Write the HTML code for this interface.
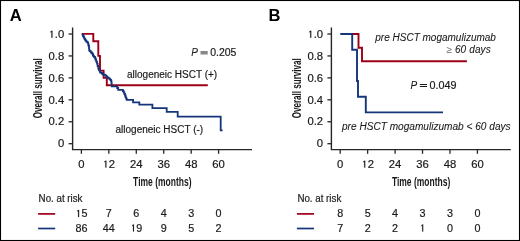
<!DOCTYPE html>
<html><head><meta charset="utf-8"><style>
html,body{margin:0;padding:0;background:#fff;}
svg{display:block;}
svg{will-change:transform;}
.t{font-family:"Liberation Sans",sans-serif;font-size:10px;fill:#1a1a1a;stroke:#1a1a1a;stroke-width:0.18px;}
.one{fill:#1a1a1a;stroke:#1a1a1a;stroke-width:36.864;}
.it{font-style:italic;stroke-width:0.08px;}
.lab{font-family:"Liberation Sans",sans-serif;font-size:12.6px;font-weight:bold;fill:#1a1a1a;}
.pl{font-family:"Liberation Sans",sans-serif;font-size:15.8px;font-weight:bold;fill:#000;}
</style></head><body>
<svg width="520" height="241" viewBox="0 0 520 241">
<rect x="0" y="0" width="520" height="241" fill="#fff"/>
<path d="M72.6,27.5 V149.6 M72,149.6 H252" stroke="#262626" stroke-width="1.4" fill="none"/>
<path d="M68.6,34 H72.6" stroke="#262626" stroke-width="1.3"/>
<g transform="translate(64.3,37.7) scale(1.13,1)"><text x="-13.901" y="0" class="t"> .0</text><path class="one" transform="translate(-13.901,0) scale(0.004883,-0.004883)" d="M515,0 V1215 L330,1085 V1235 L540,1409 H696 V0 Z"/></g>
<path d="M68.6,55.94 H72.6" stroke="#262626" stroke-width="1.3"/>
<text transform="translate(64.3,59.64) scale(1.13,1)" text-anchor="end" class="t">0.8</text>
<path d="M68.6,77.88 H72.6" stroke="#262626" stroke-width="1.3"/>
<text transform="translate(64.3,81.58) scale(1.13,1)" text-anchor="end" class="t">0.6</text>
<path d="M68.6,99.82 H72.6" stroke="#262626" stroke-width="1.3"/>
<text transform="translate(64.3,103.52) scale(1.13,1)" text-anchor="end" class="t">0.4</text>
<path d="M68.6,121.76 H72.6" stroke="#262626" stroke-width="1.3"/>
<text transform="translate(64.3,125.46000000000001) scale(1.13,1)" text-anchor="end" class="t">0.2</text>
<path d="M68.6,143.7 H72.6" stroke="#262626" stroke-width="1.3"/>
<text transform="translate(64.3,147.39999999999998) scale(1.13,1)" text-anchor="end" class="t">0</text>
<path d="M81.4,149.6 V153.8" stroke="#262626" stroke-width="1.3"/>
<text transform="translate(81.4,167.6) scale(1.13,1)" text-anchor="middle" class="t">0</text>
<path d="M108.84,149.6 V153.8" stroke="#262626" stroke-width="1.3"/>
<g transform="translate(108.84,167.6) scale(1.13,1)"><text x="-5.562" y="0" class="t"> 2</text><path class="one" transform="translate(-5.562,0) scale(0.004883,-0.004883)" d="M515,0 V1215 L330,1085 V1235 L540,1409 H696 V0 Z"/></g>
<path d="M136.28,149.6 V153.8" stroke="#262626" stroke-width="1.3"/>
<text transform="translate(136.28,167.6) scale(1.13,1)" text-anchor="middle" class="t">24</text>
<path d="M163.72000000000003,149.6 V153.8" stroke="#262626" stroke-width="1.3"/>
<text transform="translate(163.72000000000003,167.6) scale(1.13,1)" text-anchor="middle" class="t">36</text>
<path d="M191.16000000000003,149.6 V153.8" stroke="#262626" stroke-width="1.3"/>
<text transform="translate(191.16000000000003,167.6) scale(1.13,1)" text-anchor="middle" class="t">48</text>
<path d="M218.60000000000002,149.6 V153.8" stroke="#262626" stroke-width="1.3"/>
<text transform="translate(218.60000000000002,167.6) scale(1.13,1)" text-anchor="middle" class="t">60</text>
<text transform="translate(162.3,185.8) scale(0.675,1)" text-anchor="middle" class="lab">Time (months)</text>
<text transform="translate(41.7,88.3) rotate(-90) scale(0.64,1)" text-anchor="middle" class="lab">Overall survival</text>
<text x="38.6" y="201.5" class="t" textLength="43.9" lengthAdjust="spacingAndGlyphs">No. at risk</text>
<path d="M38.1,213.9 H55.2" stroke="#9c0018" stroke-width="1.7"/>
<path d="M38.1,228.5 H55.2" stroke="#15357a" stroke-width="1.7"/>
<path d="M331.4,27.5 V149.6 M330.8,149.6 H510.8" stroke="#262626" stroke-width="1.4" fill="none"/>
<path d="M327.4,34 H331.4" stroke="#262626" stroke-width="1.3"/>
<g transform="translate(323.1,37.7) scale(1.13,1)"><text x="-13.901" y="0" class="t"> .0</text><path class="one" transform="translate(-13.901,0) scale(0.004883,-0.004883)" d="M515,0 V1215 L330,1085 V1235 L540,1409 H696 V0 Z"/></g>
<path d="M327.4,55.94 H331.4" stroke="#262626" stroke-width="1.3"/>
<text transform="translate(323.1,59.64) scale(1.13,1)" text-anchor="end" class="t">0.8</text>
<path d="M327.4,77.88 H331.4" stroke="#262626" stroke-width="1.3"/>
<text transform="translate(323.1,81.58) scale(1.13,1)" text-anchor="end" class="t">0.6</text>
<path d="M327.4,99.82 H331.4" stroke="#262626" stroke-width="1.3"/>
<text transform="translate(323.1,103.52) scale(1.13,1)" text-anchor="end" class="t">0.4</text>
<path d="M327.4,121.76 H331.4" stroke="#262626" stroke-width="1.3"/>
<text transform="translate(323.1,125.46000000000001) scale(1.13,1)" text-anchor="end" class="t">0.2</text>
<path d="M327.4,143.7 H331.4" stroke="#262626" stroke-width="1.3"/>
<text transform="translate(323.1,147.39999999999998) scale(1.13,1)" text-anchor="end" class="t">0</text>
<path d="M340.20000000000005,149.6 V153.8" stroke="#262626" stroke-width="1.3"/>
<text transform="translate(340.20000000000005,167.6) scale(1.13,1)" text-anchor="middle" class="t">0</text>
<path d="M367.64,149.6 V153.8" stroke="#262626" stroke-width="1.3"/>
<g transform="translate(367.64,167.6) scale(1.13,1)"><text x="-5.562" y="0" class="t"> 2</text><path class="one" transform="translate(-5.562,0) scale(0.004883,-0.004883)" d="M515,0 V1215 L330,1085 V1235 L540,1409 H696 V0 Z"/></g>
<path d="M395.08000000000004,149.6 V153.8" stroke="#262626" stroke-width="1.3"/>
<text transform="translate(395.08000000000004,167.6) scale(1.13,1)" text-anchor="middle" class="t">24</text>
<path d="M422.52000000000004,149.6 V153.8" stroke="#262626" stroke-width="1.3"/>
<text transform="translate(422.52000000000004,167.6) scale(1.13,1)" text-anchor="middle" class="t">36</text>
<path d="M449.96000000000004,149.6 V153.8" stroke="#262626" stroke-width="1.3"/>
<text transform="translate(449.96000000000004,167.6) scale(1.13,1)" text-anchor="middle" class="t">48</text>
<path d="M477.40000000000003,149.6 V153.8" stroke="#262626" stroke-width="1.3"/>
<text transform="translate(477.40000000000003,167.6) scale(1.13,1)" text-anchor="middle" class="t">60</text>
<text transform="translate(421.1,185.8) scale(0.675,1)" text-anchor="middle" class="lab">Time (months)</text>
<text transform="translate(300.5,88.3) rotate(-90) scale(0.64,1)" text-anchor="middle" class="lab">Overall survival</text>
<text x="297.40000000000003" y="201.5" class="t" textLength="43.9" lengthAdjust="spacingAndGlyphs">No. at risk</text>
<path d="M296.90000000000003,213.9 H314.0" stroke="#9c0018" stroke-width="1.7"/>
<path d="M296.90000000000003,228.5 H314.0" stroke="#15357a" stroke-width="1.7"/>
<g transform="translate(81.4,216.9) scale(1.08,1)"><text x="-5.562" y="0" class="t"> 5</text><path class="one" transform="translate(-5.562,0) scale(0.004883,-0.004883)" d="M515,0 V1215 L330,1085 V1235 L540,1409 H696 V0 Z"/></g>
<text transform="translate(81.4,231.5) scale(1.08,1)" text-anchor="middle" class="t">86</text>
<text transform="translate(108.84,216.9) scale(1.08,1)" text-anchor="middle" class="t">7</text>
<text transform="translate(108.84,231.5) scale(1.08,1)" text-anchor="middle" class="t">44</text>
<text transform="translate(136.28,216.9) scale(1.08,1)" text-anchor="middle" class="t">6</text>
<g transform="translate(136.28,231.5) scale(1.08,1)"><text x="-5.562" y="0" class="t"> 9</text><path class="one" transform="translate(-5.562,0) scale(0.004883,-0.004883)" d="M515,0 V1215 L330,1085 V1235 L540,1409 H696 V0 Z"/></g>
<text transform="translate(163.72000000000003,216.9) scale(1.08,1)" text-anchor="middle" class="t">4</text>
<text transform="translate(163.72000000000003,231.5) scale(1.08,1)" text-anchor="middle" class="t">9</text>
<text transform="translate(191.16000000000003,216.9) scale(1.08,1)" text-anchor="middle" class="t">3</text>
<text transform="translate(191.16000000000003,231.5) scale(1.08,1)" text-anchor="middle" class="t">5</text>
<text transform="translate(218.60000000000002,216.9) scale(1.08,1)" text-anchor="middle" class="t">0</text>
<text transform="translate(218.60000000000002,231.5) scale(1.08,1)" text-anchor="middle" class="t">2</text>
<text transform="translate(340.20000000000005,216.9) scale(1.08,1)" text-anchor="middle" class="t">8</text>
<text transform="translate(340.20000000000005,231.5) scale(1.08,1)" text-anchor="middle" class="t">7</text>
<text transform="translate(367.64,216.9) scale(1.08,1)" text-anchor="middle" class="t">5</text>
<text transform="translate(367.64,231.5) scale(1.08,1)" text-anchor="middle" class="t">2</text>
<text transform="translate(395.08000000000004,216.9) scale(1.08,1)" text-anchor="middle" class="t">4</text>
<text transform="translate(395.08000000000004,231.5) scale(1.08,1)" text-anchor="middle" class="t">2</text>
<text transform="translate(422.52000000000004,216.9) scale(1.08,1)" text-anchor="middle" class="t">3</text>
<g transform="translate(422.52000000000004,231.5) scale(1.08,1)"><text x="-2.781" y="0" class="t"> </text><path class="one" transform="translate(-2.781,0) scale(0.004883,-0.004883)" d="M515,0 V1215 L330,1085 V1235 L540,1409 H696 V0 Z"/></g>
<text transform="translate(449.96000000000004,216.9) scale(1.08,1)" text-anchor="middle" class="t">3</text>
<text transform="translate(449.96000000000004,231.5) scale(1.08,1)" text-anchor="middle" class="t">0</text>
<text transform="translate(477.40000000000003,216.9) scale(1.08,1)" text-anchor="middle" class="t">0</text>
<text transform="translate(477.40000000000003,231.5) scale(1.08,1)" text-anchor="middle" class="t">0</text>
<text transform="translate(9.8,21.1) scale(1.05,1)" class="pl">A</text>
<text transform="translate(268.6,21.1) scale(1.05,1)" class="pl">B</text>
<path d="M81.7,33.9 H93.3 V41.3 H98.3 V55.9 H100 V70.6 H103.6 V77.9 H106.8 V85.2 H207.8" stroke="#9c0018" stroke-width="1.9" fill="none"/>
<path d="M81.7,34.6 H83 V36 H83.7 V37.3 H84.3 V38.6 H85 V39.6 H85.6 V40.6 H86.3 V41.6 H87.3 V42.3 H88 V43.3 H88.3 V44.6 H88.6 V46 H89 V48 H89.2 V50.2 H89.6 V51.2 H90.8 V52.5 H92 V53.7 H92.9 V55 H93.3 V56.2 H94.1 V57 H95 V57.9 H95.4 V59.5 H96.2 V61.6 H97 V63.7 H97.6 V66 H98.3 V68.7 H99 V70.3 H100 V72.3 H101 V72.8 H102 V73.5 H102.6 V74.3 H103.6 V74.7 H104.6 V75.1 H105.6 V75.6 H106.3 V76.4 H107 V77.1 H107.6 V77.7 H108.6 V78.4 H109.6 V79.1 H110.3 V79.8 H111 V80.6 H111.4 V82.5 H111.6 V84.5 H111.8 V86.4 L116.6,86.4 H117.2 V88 H118.2 V89.9 L122.5,89.9 H122.9 V91.2 H123.7 V92.3 H124.3 V93.8 H125 V95.5 H125.6 V97.3 H126.3 V98.8 H126.8 V99.9 L133.1,99.9 L133.1,102.3 L139.3,102.3 L139.3,104.7 L152.4,104.7 L152.4,108.1 L166.7,108.1 L166.7,111.9 L177.7,111.9 L177.7,116.6 L220.7,116.6 L220.7,130.4 L222.6,130.4" stroke="#15357a" stroke-width="1.8" fill="none" stroke-linejoin="miter"/>
<path d="M340.3,34 H352.2 V49.7 H357 V65.4 V81 H358 V96.7 H365.8 V112.4 H443" stroke="#15357a" stroke-width="1.9" fill="none"/>
<path d="M352.9,34 H358.5 V47.7 H362 V61.2 H466.9" stroke="#9c0018" stroke-width="1.9" fill="none"/>
<text x="191.3" y="55.8" class="t it">P</text>
<rect x="200.5" y="51" width="7.2" height="3.5" fill="#888"/>
<text x="210.2" y="55.8" class="t" textLength="26.2" lengthAdjust="spacingAndGlyphs">0.205</text>
<text x="127" y="77.8" class="t">allogeneic HSCT (+)</text>
<text x="115.5" y="132.8" class="t">allogeneic HSCT (-)</text>
<text x="375.3" y="40.8" class="t it">pre HSCT mogamulizumab</text>
<text x="446.4" y="53.4" class="t it" textLength="44.3" lengthAdjust="spacing"><tspan style="fill:#6a6a6a;stroke:none">≥</tspan> 60 days</text>
<text x="410.6" y="88.6" class="t it">P</text>
<rect x="419.8" y="84" width="7.2" height="1" fill="#1a1a1a"/><rect x="419.8" y="86" width="7.2" height="1" fill="#1a1a1a"/>
<text x="429.4" y="88.6" class="t" textLength="27" lengthAdjust="spacingAndGlyphs">0.049</text>
<text x="342" y="130.1" class="t it" textLength="168.6" lengthAdjust="spacingAndGlyphs">pre HSCT mogamulizumab &lt; 60 days</text>
<rect x="0.5" y="0.5" width="519" height="240" fill="none" stroke="#000" stroke-width="1.1"/>
</svg>
</body></html>
